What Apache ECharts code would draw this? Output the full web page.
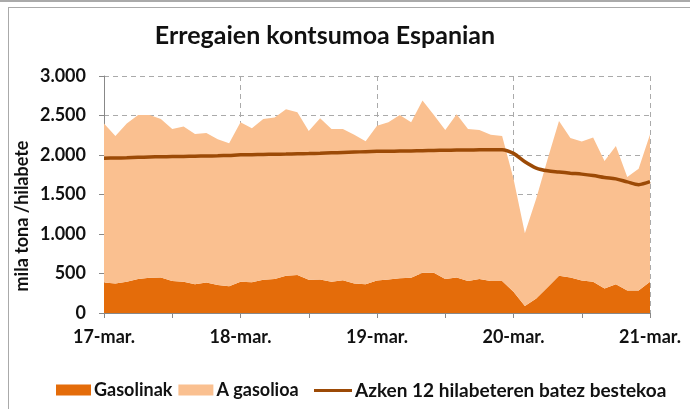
<!DOCTYPE html>
<html>
<head>
<meta charset="utf-8">
<script src="https://cdn.jsdelivr.net/npm/echarts@6/dist/echarts.min.js"></script>
<style>
  html, body { margin: 0; padding: 0; background: #fff; }
  .topline { position: absolute; left: 0; top: 0; width: 690px; height: 2px; background: #aaa; }
  .frame { position: absolute; left: 8px; top: 7px; width: 720px; height: 440px; border: 1.5px solid #aaa; }
  #chart { position: absolute; left: 0; top: 0; width: 690px; height: 409px; }
</style>
</head>
<body>
<div class="topline"></div>
<div class="frame"></div>
<div id="chart"></div>
<script>
// one point every 2 hours, 17-mar 00:00 .. 21-mar 00:00
const days = ['17-mar.', '18-mar.', '19-mar.', '20-mar.', '21-mar.']
const hours = ['00', '02', '04', '06', '08', '10', '12', '14', '16', '18', '20', '22']

const gasolinak = [385, 375, 395, 430, 445, 450, 405, 395, 365, 385, 355, 340,
    395, 390, 420, 430, 470, 480, 420, 425, 395, 415, 375, 365,
    410, 425, 440, 445, 510, 510, 430, 450, 405, 430, 405, 405,
    270, 90, 185, 325, 470, 450, 410, 395, 310, 365, 285, 285,
    395]
const gasolioa = [2015, 1865, 2005, 2075, 2060, 2005, 1925, 1965, 1900, 1895, 1845, 1810,
    2020, 1950, 2035, 2045, 2110, 2060, 1885, 2040, 1935, 1915, 1880, 1810,
    1960, 1990, 2065, 1970, 2180, 1995, 1885, 2065, 1925, 1885, 1850, 1835,
    1430, 920, 1265, 1625, 1960, 1765, 1760, 1825, 1615, 1750, 1435, 1540,
    1865]
const bestekoa = [1960, 1962, 1965, 1970, 1975, 1978, 1980, 1982, 1985, 1988, 1990, 1995,
    2002, 2004, 2007, 2010, 2012, 2015, 2018, 2022, 2027, 2032, 2037, 2042,
    2046, 2048, 2050, 2052, 2055, 2058, 2060, 2062, 2063, 2065, 2066, 2068,
    2020, 1915, 1835, 1800, 1785, 1770, 1758, 1740, 1715, 1698, 1660, 1625,
    1662]

const categories = []
days.forEach((d, i) => {
    if (i < days.length - 1) hours.forEach(h => categories.push(d + ' ' + h))
    else categories.push(d + ' 00')
})

const font = 'Lato, "Open Sans", sans-serif'
const legendText = { fontFamily: font, fontSize: 18, fontWeight: 'bold', color: '#111', padding: [0, 0, 0, -2] }
const chart = echarts.init(document.getElementById('chart'))
chart.setOption({
    animation: false,
    title: {
        text: 'Erregaien kontsumoa Espanian',
        left: 320,
        top: 18,
        textAlign: 'center',
        textStyle: { fontFamily: font, fontSize: 25, fontWeight: 'bold', color: '#111' }
    },
    grid: { left: 104, right: 40, top: 76, bottom: 96 },
    legend: [
        {
            left: 51,
            top: 376,
            itemWidth: 35,
            itemHeight: 11,
            itemGap: 6,
            textStyle: legendText,
            data: [
                { name: 'Gasolinak', icon: 'rect' },
                { name: 'A gasolioa', icon: 'rect' }
            ]
        },
        {
            left: 309,
            top: 376,
            itemWidth: 38,
            itemHeight: 3,
            textStyle: Object.assign({}, legendText, { fontSize: 19 }),
            data: [{ name: 'Azken 12 hilabeteren batez bestekoa', icon: 'rect' }]
        }
    ],
    graphic: [{
        type: 'text',
        x: 22,
        y: 216,
        rotation: Math.PI / 2,
        style: {
            text: 'mila tona /hilabete',
            font: 'bold 18px ' + font,
            fill: '#111',
            textAlign: 'center',
            textVerticalAlign: 'middle'
        }
    }],
    xAxis: {
        type: 'category',
        data: categories,
        boundaryGap: false,
        axisLine: { lineStyle: { color: '#888', width: 1 } },
        axisTick: { interval: 5, length: 5, lineStyle: { color: '#888' } },
        axisLabel: {
            interval: 11,
            formatter: v => v.split(' ')[0],
            fontFamily: font, fontSize: 18, fontWeight: 'bold', color: '#111', margin: 15
        },
        splitLine: { show: true, interval: 11, lineStyle: { color: '#aaa', type: [5, 4] } }
    },
    yAxis: {
        type: 'value',
        min: 0,
        max: 3000,
        interval: 500,
        axisLine: { show: true, lineStyle: { color: '#888' } },
        axisTick: { show: true, length: 5, lineStyle: { color: '#888' } },
        axisLabel: {
            formatter: v => v < 1000 ? String(v) : (v / 1000).toFixed(3),
            fontFamily: font, fontSize: 18, fontWeight: 'bold', color: '#111', margin: 18
        },
        splitLine: { lineStyle: { color: '#aaa', type: [5, 4] } }
    },
    series: [
        {
            name: 'Gasolinak',
            type: 'line',
            stack: 'kontsumoa',
            data: gasolinak,
            symbol: 'none',
            lineStyle: { width: 0 },
            areaStyle: { color: '#E46C0A', opacity: 1 },
            itemStyle: { color: '#E46C0A' }
        },
        {
            name: 'A gasolioa',
            type: 'line',
            stack: 'kontsumoa',
            data: gasolioa,
            symbol: 'none',
            lineStyle: { width: 0 },
            areaStyle: { color: '#FAC090', opacity: 1 },
            itemStyle: { color: '#FAC090' }
        },
        {
            name: 'Azken 12 hilabeteren batez bestekoa',
            type: 'line',
            data: bestekoa,
            symbol: 'none',
            smooth: 0.3,
            lineStyle: { width: 3.5, color: '#9C4A06' },
            itemStyle: { color: '#9C4A06' },
            z: 5
        }
    ]
})
</script>
</body>
</html>
